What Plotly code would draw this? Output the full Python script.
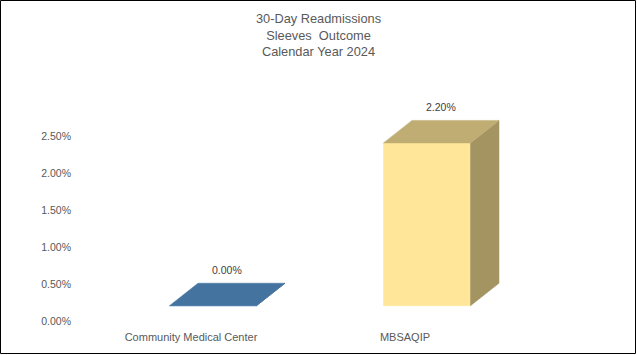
import plotly.graph_objects as go

# ---- data ----
categories = ["Community Medical Center", "MBSAQIP"]
values = [0.0, 0.022]          # readmission rate (fraction)
value_labels = ["0.00%", "2.20%"]
y_tickvals = [0.0, 0.005, 0.01, 0.015, 0.02, 0.025]
title_lines = ["30-Day Readmissions", "Sleeves  Outcome", "Calendar Year 2024"]

# ---- style (3D look) ----
front_colors = ["#5B9BD5", "#FFE699"]
top_colors = ["#44739F", "#BFAD73"]
side_colors = ["#3A6288", "#A39462"]

W, H = 637, 355
ML, MB = 78, 28
PW, PH = W - ML, H - MB
X_PX = 214.0          # pixels per category
Y_PX = 7400.0         # pixels per unit of rate
X0_PX = 191.0         # pixel of category 0 label
Y0_PX = 321.7         # pixel of 0.00% tick
OFF = 22 / X_PX       # front face offset from label (perspective)
HW = 43.5 / X_PX      # half width of front face
DX = 28.5 / X_PX      # depth, horizontal
DY = 22.5 / Y_PX      # depth, vertical
FLOOR = 16 / Y_PX     # floor offset of front face

xr_ = [(ML - X0_PX) / X_PX, (W - X0_PX) / X_PX]
yr_ = [(Y0_PX - PH) / Y_PX, Y0_PX / Y_PX]

fig = go.Figure()

def poly(xs, ys, color):
    fig.add_trace(go.Scatter(x=xs + [xs[0]], y=ys + [ys[0]], fill="toself",
                             fillcolor=color, mode="lines",
                             line=dict(color=color, width=0.5),
                             hoverinfo="skip", showlegend=False))

for i, v in enumerate(values):
    xc = i + OFF
    xl, xr = xc - HW, xc + HW
    yb, yt = FLOOR, FLOOR + v
    poly([xl, xr, xr, xl], [yb, yb, yt, yt], front_colors[i])
    poly([xr, xr + DX, xr + DX, xr], [yb, yb + DY, yt + DY, yt], side_colors[i])
    poly([xl, xl + DX, xr + DX, xr], [yt, yt + DY, yt + DY, yt], top_colors[i])
    fig.add_annotation(x=xc + DX / 2, y=yt + DY, text=value_labels[i],
                       showarrow=False, yanchor="bottom", yshift=5,
                       font=dict(size=10.5, color="#404040"))

font_fam = "Liberation Sans, Arial, sans-serif"
fig.update_layout(
    width=W, height=H,
    margin=dict(l=ML, r=0, t=0, b=MB),
    paper_bgcolor="white", plot_bgcolor="white",
    font=dict(family=font_fam, color="#595959"),
    title=dict(text="<br>".join(title_lines), x=0.5, xref="container",
               xanchor="center", y=1 - 23 / H, yref="container", yanchor="top",
               font=dict(size=12.8, color="#595959")),
    xaxis=dict(range=xr_, tickvals=[0, 1], ticktext=categories,
               showgrid=False, zeroline=False, showline=False, ticks="",
               tickfont=dict(size=11, color="#595959"), ticklabelstandoff=2),
    yaxis=dict(range=yr_, tickvals=y_tickvals, tickformat=".2%",
               showgrid=False, zeroline=False, showline=False, ticks="",
               tickfont=dict(size=10.5, color="#595959"), ticklabelstandoff=6),
    shapes=[dict(type="rect", xref="paper", yref="paper",
                 x0=(0.5 - ML) / PW, x1=(635.5 - ML) / PW,
                 y0=(PH - 353.5) / PH, y1=(PH - 0.5) / PH,
                 line=dict(color="#000000", width=1), layer="above")],
)

fig.write_html("out.html", config={"displayModeBar": False},
               post_script="document.body.style.margin='0';document.body.style.overflow='hidden';")
